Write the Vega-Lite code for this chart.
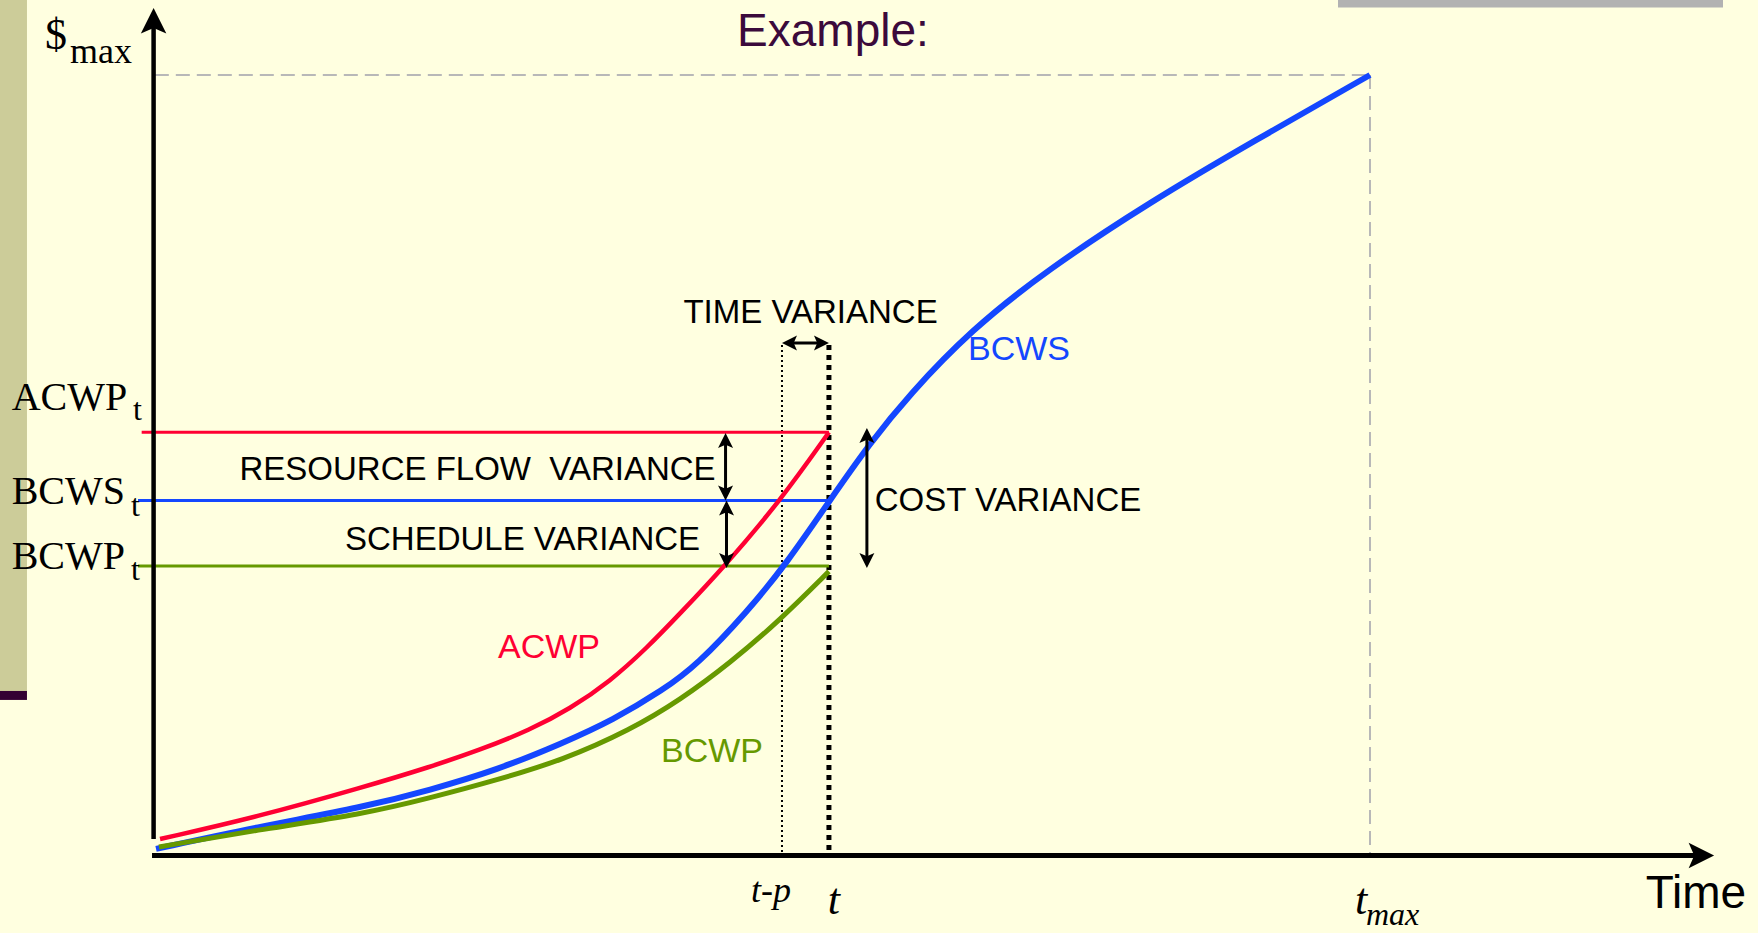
{
  "$schema": "https://vega.github.io/schema/vega-lite/v6.json",
  "width": 1758,
  "height": 933,
  "autosize": "none",
  "padding": 0,
  "background": "#FFFFE0",
  "config": {"view": {"stroke": null}},
  "resolve": {"scale": {"color": "independent", "shape": "independent"}},
  "datasets": {
    "bg": [
      {"t": -12.627, "t2": -10.41, "v": 109.609, "v2": 21.08, "k": "bar"},
      {"t": -12.627, "t2": -10.41, "v": 21.08, "v2": 19.93, "k": "strip"},
      {"t": 97.37, "t2": 129.02, "v": 109.609, "v2": 108.65, "k": "gray"}
    ],
    "grayDash": [
      {"t": 0.1, "t2": 100, "v": 100, "v2": 100},
      {"t": 100, "t2": 100, "v": 100, "v2": 0}
    ],
    "tpDot": [{"t": 51.66, "t2": 51.66, "v": 65.41, "v2": 0}],
    "tDot": [{"t": 55.52, "t2": 55.52, "v": 65.41, "v2": 0}],
    "levels": [
      {"s": "ACWP", "t": -0.98, "t2": 55.52, "v": 54.22, "v2": 54.22},
      {"s": "BCWS", "t": -1.28, "t2": 55.52, "v": 45.48, "v2": 45.48},
      {"s": "BCWP", "t": -1.28, "t2": 55.52, "v": 37.09, "v2": 37.09}
    ],
    "curves": [
      {"s": "ACWP", "t": 0.53, "v": 2.11},
      {"s": "ACWP", "t": 8.5, "v": 4.93},
      {"s": "ACWP", "t": 17.3, "v": 8.78},
      {"s": "ACWP", "t": 22.72, "v": 11.34},
      {"s": "ACWP", "t": 26.83, "v": 13.52},
      {"s": "ACWP", "t": 30.94, "v": 16.08},
      {"s": "ACWP", "t": 34.23, "v": 18.8},
      {"s": "ACWP", "t": 37.52, "v": 22.3},
      {"s": "ACWP", "t": 40.56, "v": 26.6},
      {"s": "ACWP", "t": 43.28, "v": 31.0},
      {"s": "ACWP", "t": 46.81, "v": 36.84},
      {"s": "ACWP", "t": 51.5, "v": 45.4},
      {"s": "ACWP", "t": 55.52, "v": 54.22},
      {"s": "BCWS", "t": 0.2, "v": 0.85},
      {"s": "BCWS", "t": 8.5, "v": 3.65},
      {"s": "BCWS", "t": 17.3, "v": 6.21},
      {"s": "BCWS", "t": 22.72, "v": 8.39},
      {"s": "BCWS", "t": 28.23, "v": 10.95},
      {"s": "BCWS", "t": 33.66, "v": 14.41},
      {"s": "BCWS", "t": 37.77, "v": 17.36},
      {"s": "BCWS", "t": 41.88, "v": 21.2},
      {"s": "BCWS", "t": 44.67, "v": 24.4},
      {"s": "BCWS", "t": 48.78, "v": 31.2},
      {"s": "BCWS", "t": 52.07, "v": 37.48},
      {"s": "BCWS", "t": 55.61, "v": 45.55},
      {"s": "BCWS", "t": 58.9, "v": 52.85},
      {"s": "BCWS", "t": 62.1, "v": 59.0},
      {"s": "BCWS", "t": 67.2, "v": 67.33},
      {"s": "BCWS", "t": 73.45, "v": 75.02},
      {"s": "BCWS", "t": 81.91, "v": 83.73},
      {"s": "BCWS", "t": 90.46, "v": 91.54},
      {"s": "BCWS", "t": 100, "v": 100},
      {"s": "BCWP", "t": 0.44, "v": 1.09},
      {"s": "BCWP", "t": 8.5, "v": 3.27},
      {"s": "BCWP", "t": 17.3, "v": 5.32},
      {"s": "BCWP", "t": 22.72, "v": 7.37},
      {"s": "BCWP", "t": 28.23, "v": 9.67},
      {"s": "BCWP", "t": 33.66, "v": 12.24},
      {"s": "BCWP", "t": 39.17, "v": 16.08},
      {"s": "BCWP", "t": 43.28, "v": 19.92},
      {"s": "BCWP", "t": 47.39, "v": 24.66},
      {"s": "BCWP", "t": 51.5, "v": 30.17},
      {"s": "BCWP", "t": 55.52, "v": 36.4}
    ],
    "shafts": [
      {"t": 47.02, "t2": 47.02, "v": 53.3, "v2": 46.3},
      {"t": 47.1, "t2": 47.1, "v": 44.7, "v2": 37.6},
      {"t": 58.64, "t2": 58.64, "v": 54.0, "v2": 37.6},
      {"t": 52.16, "t2": 55.02, "v": 65.66, "v2": 65.66}
    ],
    "yAxis": [{"t": 0, "t2": 0, "v": 2.1, "v2": 107.0}],
    "xAxis": [{"t": -0.13, "t2": 127.1, "v": 0, "v2": 0}],
    "heads": [
      {"t": 47.02, "v": 54.13, "dir": "up"},
      {"t": 47.02, "v": 45.48, "dir": "down"},
      {"t": 47.1, "v": 45.48, "dir": "up"},
      {"t": 47.1, "v": 36.84, "dir": "down"},
      {"t": 58.64, "v": 54.77, "dir": "up"},
      {"t": 58.64, "v": 36.84, "dir": "down"},
      {"t": 51.66, "v": 65.66, "dir": "left"},
      {"t": 55.52, "v": 65.66, "dir": "right"}
    ],
    "axisHeads": [
      {"t": 0, "v": 108.58, "dir": "up"},
      {"t": 128.29, "v": 0, "dir": "right"}
    ],
    "serifMain": [
      {"label": "ACWP", "t": -11.67, "v": 57.08},
      {"label": "BCWS", "t": -11.67, "v": 45.04},
      {"label": "BCWP", "t": -11.67, "v": 36.67}
    ],
    "serifSub": [
      {"label": "t", "t": -1.69, "v": 55.8},
      {"label": "t", "t": -1.86, "v": 43.5},
      {"label": "t", "t": -1.86, "v": 35.3}
    ],
    "dollar": [{"label": "$", "t": -8.93, "v": 103.3}],
    "dollarSub": [{"label": "max", "t": -6.87, "v": 101.54}],
    "italicSmall": [{"label": "t-p", "t": 50.76, "v": -5.96}],
    "italicBig": [
      {"label": "t", "t": 55.93, "v": -7.5},
      {"label": "t", "t": 99.26, "v": -7.5}
    ],
    "italicSub": [{"label": "max", "t": 99.67, "v": -8.95}],
    "sansLabels": [
      {"label": "TIME VARIANCE", "t": 54.01, "v": 68.23},
      {"label": "RESOURCE FLOW \u00a0VARIANCE", "t": 26.63, "v": 48.11},
      {"label": "SCHEDULE VARIANCE", "t": 30.33, "v": 39.14},
      {"label": "COST VARIANCE", "t": 70.24, "v": 44.14}
    ],
    "curveLabels": [
      {"s": "BCWS", "t": 71.14, "v": 63.48},
      {"s": "ACWP", "t": 32.51, "v": 25.3},
      {"s": "BCWP", "t": 45.91, "v": 11.98}
    ],
    "timeLabel": [{"label": "Time", "t": 122.66, "v": -6.73}],
    "title": [{"label": "Example:", "t": 55.85, "v": 103.71}]
  },
  "encoding": {
    "x": {"field": "t", "type": "quantitative", "scale": {"domain": [-12.627, 131.897], "nice": false, "zero": false}, "axis": null},
    "y": {"field": "v", "type": "quantitative", "scale": {"domain": [-9.93, 109.609], "nice": false, "zero": false}, "axis": null}
  },
  "layer": [
    {
      "data": {"name": "bg"},
      "mark": {"type": "rect", "strokeWidth": 0},
      "encoding": {
        "x2": {"field": "t2"},
        "y2": {"field": "v2"},
        "color": {"field": "k", "type": "nominal", "scale": {"domain": ["bar", "strip", "gray"], "range": ["#CCCC99", "#330033", "#B2B2B2"]}, "legend": null}
      }
    },
    {
      "data": {"name": "grayDash"},
      "mark": {"type": "rule", "color": "#B8B8B8", "strokeWidth": 2, "strokeDash": [14, 7]},
      "encoding": {"x2": {"field": "t2"}, "y2": {"field": "v2"}}
    },
    {
      "data": {"name": "tpDot"},
      "mark": {"type": "rule", "color": "black", "strokeWidth": 2, "strokeDash": [2, 3]},
      "encoding": {"x2": {"field": "t2"}, "y2": {"field": "v2"}}
    },
    {
      "data": {"name": "tDot"},
      "mark": {"type": "rule", "color": "black", "strokeWidth": 5, "strokeDash": [5, 5]},
      "encoding": {"x2": {"field": "t2"}, "y2": {"field": "v2"}}
    },
    {
      "data": {"name": "levels"},
      "mark": {"type": "rule", "strokeWidth": 3},
      "encoding": {
        "x2": {"field": "t2"},
        "y2": {"field": "v2"},
        "color": {"field": "s", "type": "nominal", "scale": {"domain": ["ACWP", "BCWS", "BCWP"], "range": ["#FF0033", "#1447FF", "#669900"]}, "legend": null}
      }
    },
    {
      "data": {"name": "curves"},
      "transform": [{"filter": "datum.s === 'ACWP'"}],
      "mark": {"type": "line", "strokeWidth": 4.5, "interpolate": "basis", "strokeCap": "butt"},
      "encoding": {
        "color": {"field": "s", "type": "nominal", "scale": {"domain": ["ACWP", "BCWS", "BCWP"], "range": ["#FF0033", "#1447FF", "#669900"]}, "legend": null}
      }
    },
    {
      "data": {"name": "curves"},
      "transform": [{"filter": "datum.s === 'BCWS'"}],
      "mark": {"type": "line", "strokeWidth": 6, "interpolate": "basis", "strokeCap": "butt"},
      "encoding": {
        "color": {"field": "s", "type": "nominal", "scale": {"domain": ["ACWP", "BCWS", "BCWP"], "range": ["#FF0033", "#1447FF", "#669900"]}, "legend": null}
      }
    },
    {
      "data": {"name": "curves"},
      "transform": [{"filter": "datum.s === 'BCWP'"}],
      "mark": {"type": "line", "strokeWidth": 5, "interpolate": "basis", "strokeCap": "butt"},
      "encoding": {
        "color": {"field": "s", "type": "nominal", "scale": {"domain": ["ACWP", "BCWS", "BCWP"], "range": ["#FF0033", "#1447FF", "#669900"]}, "legend": null}
      }
    },
    {
      "data": {"name": "shafts"},
      "mark": {"type": "rule", "color": "black", "strokeWidth": 3},
      "encoding": {"x2": {"field": "t2"}, "y2": {"field": "v2"}}
    },
    {
      "data": {"name": "yAxis"},
      "mark": {"type": "rule", "color": "black", "strokeWidth": 4.5},
      "encoding": {"x2": {"field": "t2"}, "y2": {"field": "v2"}}
    },
    {
      "data": {"name": "xAxis"},
      "mark": {"type": "rule", "color": "black", "strokeWidth": 5},
      "encoding": {"x2": {"field": "t2"}, "y2": {"field": "v2"}}
    },
    {
      "data": {"name": "heads"},
      "mark": {"type": "point", "filled": true, "color": "black", "opacity": 1, "size": 900, "strokeWidth": 0},
      "encoding": {
        "shape": {"field": "dir", "type": "nominal", "scale": {"domain": ["up", "down", "left", "right"], "range": ["M0,0 L0.5,1 L0,0.78 L-0.5,1 Z", "M0,0 L0.5,-1 L0,-0.78 L-0.5,-1 Z", "M0,0 L1,0.5 L0.78,0 L1,-0.5 Z", "M0,0 L-1,0.5 L-0.78,0 L-1,-0.5 Z"]}, "legend": null}
      }
    },
    {
      "data": {"name": "axisHeads"},
      "mark": {"type": "point", "filled": true, "color": "black", "opacity": 1, "size": 2600, "strokeWidth": 0},
      "encoding": {
        "shape": {"field": "dir", "type": "nominal", "scale": {"domain": ["up", "down", "left", "right"], "range": ["M0,0 L0.5,1 L0,0.78 L-0.5,1 Z", "M0,0 L0.5,-1 L0,-0.78 L-0.5,-1 Z", "M0,0 L1,0.5 L0.78,0 L1,-0.5 Z", "M0,0 L-1,0.5 L-0.78,0 L-1,-0.5 Z"]}, "legend": null}
      }
    },
    {
      "data": {"name": "serifMain"},
      "mark": {"type": "text", "font": "Liberation Serif", "fontSize": 40, "align": "left", "baseline": "alphabetic", "color": "black"},
      "encoding": {"text": {"field": "label"}}
    },
    {
      "data": {"name": "serifSub"},
      "mark": {"type": "text", "font": "Liberation Serif", "fontSize": 32, "align": "left", "baseline": "alphabetic", "color": "black"},
      "encoding": {"text": {"field": "label"}}
    },
    {
      "data": {"name": "dollar"},
      "mark": {"type": "text", "font": "Liberation Serif", "fontSize": 44, "align": "left", "baseline": "alphabetic", "color": "black"},
      "encoding": {"text": {"field": "label"}}
    },
    {
      "data": {"name": "dollarSub"},
      "mark": {"type": "text", "font": "Liberation Serif", "fontSize": 36, "align": "left", "baseline": "alphabetic", "color": "black"},
      "encoding": {"text": {"field": "label"}}
    },
    {
      "data": {"name": "italicSmall"},
      "mark": {"type": "text", "font": "Liberation Serif", "fontStyle": "italic", "fontSize": 36, "align": "center", "baseline": "alphabetic", "color": "black"},
      "encoding": {"text": {"field": "label"}}
    },
    {
      "data": {"name": "italicBig"},
      "mark": {"type": "text", "font": "Liberation Serif", "fontStyle": "italic", "fontSize": 44, "align": "center", "baseline": "alphabetic", "color": "black"},
      "encoding": {"text": {"field": "label"}}
    },
    {
      "data": {"name": "italicSub"},
      "mark": {"type": "text", "font": "Liberation Serif", "fontStyle": "italic", "fontSize": 32, "align": "left", "baseline": "alphabetic", "color": "black"},
      "encoding": {"text": {"field": "label"}}
    },
    {
      "data": {"name": "sansLabels"},
      "mark": {"type": "text", "font": "Liberation Sans", "fontSize": 33, "align": "center", "baseline": "alphabetic", "color": "black"},
      "encoding": {"text": {"field": "label"}}
    },
    {
      "data": {"name": "curveLabels"},
      "mark": {"type": "text", "font": "Liberation Sans", "fontSize": 34, "align": "center", "baseline": "alphabetic"},
      "encoding": {
        "text": {"field": "s"},
        "color": {"field": "s", "type": "nominal", "scale": {"domain": ["ACWP", "BCWS", "BCWP"], "range": ["#FF0033", "#1447FF", "#669900"]}, "legend": null}
      }
    },
    {
      "data": {"name": "timeLabel"},
      "mark": {"type": "text", "font": "Liberation Sans Narrow, Liberation Sans", "fontSize": 46, "align": "left", "baseline": "alphabetic", "color": "black"},
      "encoding": {"text": {"field": "label"}}
    },
    {
      "data": {"name": "title"},
      "mark": {"type": "text", "font": "Liberation Sans", "fontSize": 46, "align": "center", "baseline": "alphabetic", "color": "#3B0A3B"},
      "encoding": {"text": {"field": "label"}}
    }
  ]
}
